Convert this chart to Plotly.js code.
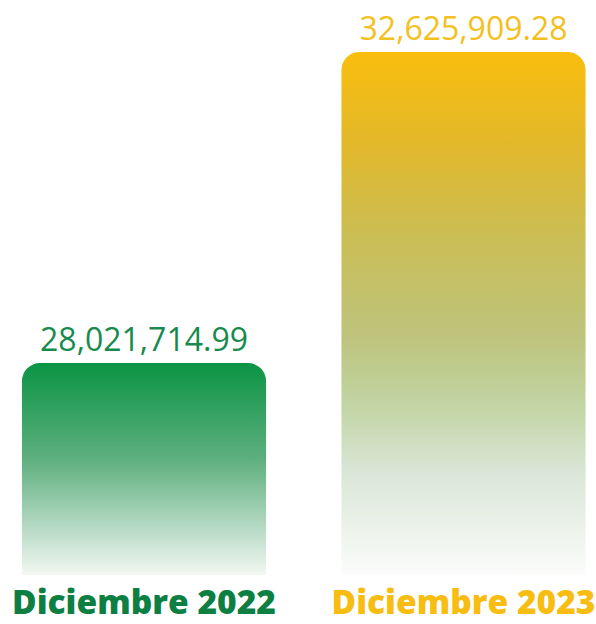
<!DOCTYPE html>
<html>
<head>
<meta charset="utf-8">
<script src="https://cdn.plot.ly/plotly-3.0.1.min.js"></script>
<style>html,body{margin:0;padding:0;background:#fff;}#chart{width:596px;height:624px;}</style>
</head>
<body>
<div id="chart"></div>
<script>
// Data
var categories = ["Diciembre 2022", "Diciembre 2023"];
var values = [28021714.99, 32625909.28];
var labelColors = ["#0E7F43", "#F7BD12"];
var valueColors = ["#178A4E", "#F4C01E"];

// Gradients (top -> bottom)
var gradients = [
  [[0, "#0B9444"], [0.45, "#5DAF7E"], [1, "#F3F7F3"]],
  [[0, "#F9BE0D"], [0.17, "#E3B82A"], [0.36, "#CABE56"], [0.55, "#BDC47E"], [0.68, "#C2D5A5"], [0.8, "#D9E6D6"], [1, "#FBFCFB"]]
];

var AXIS_MIN = 24884000;
var AXIS_MAX = 33395600;

var tickText = categories.map(function (c, i) {
  return '<span style="color:' + labelColors[i] + '">' + c + '</span>';
});

var trace = {
  type: "bar",
  x: categories,
  y: values,
  width: 0.764,
  marker: { color: ["#0B9444", "#F9BE0D"], cornerradius: 18, line: { width: 0 } },
  texttemplate: "%{y:,.2f}",
  textposition: "outside",
  textfont: { family: "Open Sans", size: 32, color: valueColors },
  cliponaxis: true,
  hoverinfo: "none"
};

var layout = {
  width: 596,
  height: 624,
  margin: { l: 0, r: 0, t: 0, b: 49 },
  paper_bgcolor: "#ffffff",
  plot_bgcolor: "#ffffff",
  showlegend: false,
  xaxis: {
    type: "category",
    range: [-0.4507, 1.4147],
    tickvals: categories,
    ticktext: tickText,
    tickfont: { family: "Open Sans", size: 33.5, weight: 800 },
    showgrid: false, zeroline: false, showline: false, ticks: "",
    ticklabelstandoff: 4
  },
  yaxis: {
    range: [AXIS_MIN, AXIS_MAX],
    visible: false,
    showgrid: false, zeroline: false
  }
};

Plotly.newPlot("chart", [trace], layout, { displayModeBar: false, staticPlot: true }).then(function (gd) {
  var svg = gd.querySelector(".main-svg");
  var defs = svg.querySelector("defs");
  var ns = "http://www.w3.org/2000/svg";
  var ya = gd._fullLayout.yaxis;
  gradients.forEach(function (stops, i) {
    var g = document.createElementNS(ns, "linearGradient");
    g.setAttribute("id", "barGrad" + i);
    g.setAttribute("gradientUnits", "userSpaceOnUse");
    g.setAttribute("x1", "0"); g.setAttribute("x2", "0");
    g.setAttribute("y1", ya.l2p(values[i]));
    g.setAttribute("y2", ya.l2p(AXIS_MIN));
    stops.forEach(function (s) {
      var st = document.createElementNS(ns, "stop");
      st.setAttribute("offset", s[0]);
      st.setAttribute("stop-color", s[1]);
      g.appendChild(st);
    });
    defs.appendChild(g);
  });
  var paths = gd.querySelectorAll(".bars .point path");
  paths.forEach(function (p, i) {
    p.style.fill = "url(#barGrad" + i + ")";
  });
});
</script>
</body>
</html>
